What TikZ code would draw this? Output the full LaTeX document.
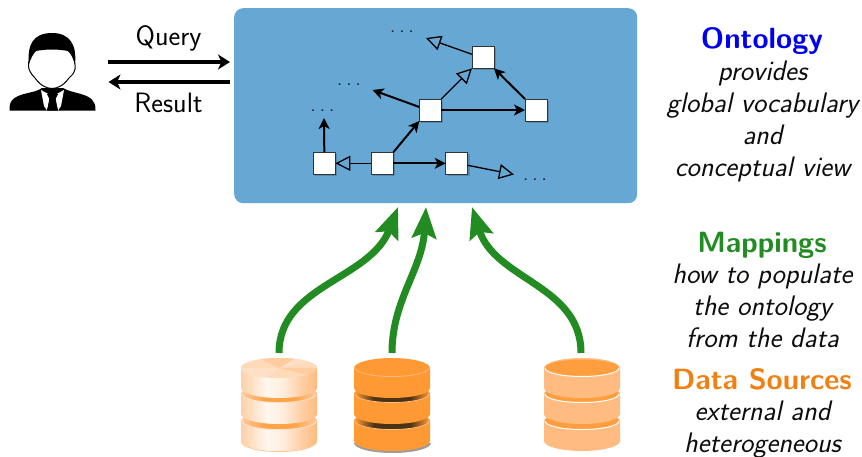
\documentclass[tikz,border=0pt]{standalone}
\usepackage{fontspec}
\usetikzlibrary{arrows.meta,shadows}
\definecolor{panel}{HTML}{66A8D3}
\definecolor{shadowblue}{HTML}{4F7FA3}
\definecolor{fgreen}{HTML}{228B22}
\definecolor{onto}{HTML}{0000F0}
\definecolor{dsorange}{HTML}{F08010}
\definecolor{dbo}{HTML}{FF9933}
\definecolor{dbl}{HTML}{FFBB80}
\definecolor{dbdark}{HTML}{4A3215}
\pgfdeclarehorizontalshading{lightdb}{100bp}{color(0bp)=(dbl!70!white); color(25bp)=(dbl!70!white); color(42bp)=(white!88!dbl); color(52bp)=(white!75!dbl); color(66bp)=(dbl!75!white); color(75bp)=(dbl); color(100bp)=(dbl)}
\pgfdeclarehorizontalshading{lightgap}{100bp}{color(0bp)=(dbl!80!white); color(25bp)=(dbl!80!white); color(40bp)=(dbo!90!white); color(60bp)=(dbo!90!white); color(75bp)=(dbl!80!white); color(100bp)=(dbl!80!white)}
\pgfdeclarehorizontalshading{darkgap}{100bp}{color(0bp)=(dbo); color(25bp)=(dbo); color(38bp)=(dbdark); color(62bp)=(dbdark); color(75bp)=(dbo); color(100bp)=(dbo)}
\tikzset{
 x=1pt,y=-1pt,
 sq/.style={draw=black!80,line width=0.9pt,fill=white,minimum size=22pt,inner sep=0pt,outer sep=0pt,
   general shadow={fill=shadowblue,shadow xshift=2pt,shadow yshift=-2pt,opacity=.7}},
 solidedge/.style={draw=black,line width=2pt,-{Stealth[length=11pt,width=11pt,inset=3pt]}},
 openedge/.style={draw=black,line width=1.3pt,-{Triangle[open,length=15pt,width=15pt,line width=1.3pt]}},
 dots/.style={font=\sffamily\fontsize{20}{20}\selectfont,inner sep=0pt,anchor=base,text=black!90},
 hugeedge/.style={draw=black,line width=3.6pt,-{Stealth[length=12pt,width=15pt,inset=3.5pt]}},
 mapedge/.style={draw=fgreen,line width=7pt,-{Stealth[length=31pt,width=24pt,inset=5pt]}},
 lab/.style={font=\sffamily\fontsize{28}{28}\selectfont,inner sep=0pt,anchor=base,text=black},
 side/.style={font=\sffamily\slshape\fontsize{28.2}{28.2}\selectfont,inner sep=0pt,anchor=base,text=black!95},
 headlab/.style={font=\sffamily\bfseries\fontsize{29.3}{29.3}\selectfont,inner sep=0pt,anchor=base},
}
\newcommand{\discoutline}[2]{(#1,#2) -- ++(0,20) arc[start angle=180,end angle=360,x radius=38pt,y radius=10pt] -- ++(0,-20) arc[start angle=0,end angle=180,x radius=38pt,y radius=10pt] -- cycle}
\newcommand{\gapellipse}[2]{(#1+38,#2) ellipse[x radius=37pt,y radius=8.5pt]}
\newcommand{\lowerarc}[2]{(#1+1,#2) arc[start angle=180,end angle=360,x radius=37pt,y radius=8.5pt]}
\begin{document}
\begin{tikzpicture}
\useasboundingbox (0,0) rectangle (862,456);
\fill[white] (0,0) rectangle (862,456);
% person
\fill[black] (9.5,110.5) .. controls (9,100) and (14,97) .. (24,94) .. controls (32,92) and (38,91) .. (42,88)
 -- (63,88) .. controls (68,91) and (74,92) .. (81,94) .. controls (91,97) and (96,101) .. (95.5,110.5) -- cycle;
\fill[white] (41,90) -- (50,95) -- (47,110.5) -- (44,106) -- cycle;
\fill[white] (64,90) -- (55,95) -- (58,110.5) -- (61,106) -- cycle;
\fill[black] (47,94) -- (58,94) -- (55,100) -- (58,110.5) -- (47,110.5) -- (50,100) -- cycle;
\draw[black,line width=1pt,fill=white] (39,48) .. controls (31,52) and (27,62) .. (29,69)
 .. controls (31,74) and (33,76) .. (35,78) .. controls (40,85) and (46,88.5) .. (52,88.5)
 .. controls (58,88.5) and (64,85) .. (69,78) .. controls (72,76) and (74,73) .. (75,69)
 .. controls (76,62) and (72,52) .. (65,48) -- cycle;
\fill[black] (29,64) .. controls (27,45) and (33,33) .. (52,33) .. controls (70,33) and (77,45) .. (75,64)
 .. controls (73,58) and (72,54) .. (68,51) .. controls (58,49) and (46,49) .. (36,51) .. controls (33,54) and (31,58) .. (29,64) -- cycle;
% panel
\node[fill=panel,rounded corners=9pt,minimum width=403pt,minimum height=195pt,inner sep=0pt,anchor=north west] (panel) at (234,8) {};
% query / result
\coordinate (qs) at (108,62); \coordinate (qe) at (230,62);
\coordinate (rs) at (230,82); \coordinate (re) at (108.5,82);
\draw[hugeedge] (qs) -- (qe);
\draw[hugeedge] (rs) -- (re);
\node[lab] (q) at (168.5,45) {Query};
\node[lab] (r) at (168.5,112) {Result};
% graph
\node[sq] (n1) at (324.3,163.3) {};
\node[sq] (n2) at (382.3,163.3) {};
\node[sq] (n3) at (456.7,163.3) {};
\node[sq] (n4) at (430.3,110) {};
\node[sq] (n5) at (536,110) {};
\node[sq] (n6) at (483,57.3) {};
\coordinate (f1) at (324,118);
\coordinate (f2) at (372.5,90);
\coordinate (f3) at (426,38);
\coordinate (f4) at (514,174.5);
\draw[solidedge] (n1.north) -- (f1);
\draw[solidedge] (n2.north east) -- (n4.south west);
\draw[solidedge] (n2.east) -- (n3.west);
\draw[openedge] (n2.west) -- (n1.east);
\draw[solidedge] (n4.east) -- (n5.west);
\draw[solidedge] ([yshift=3pt]n4.west) -- (f2);
\draw[openedge] (n4.north east) -- (n6.south west);
\draw[solidedge] (n5.north west) -- (n6.south east);
\draw[openedge] ([yshift=3pt]n6.west) -- (f3);
\draw[openedge] ([yshift=-2pt]n3.east) -- (f4);
\node[dots] (d1) at (402,32) {.\hspace{4pt}.\hspace{4pt}.};
\node[dots] (d2) at (349,85) {.\hspace{4pt}.\hspace{4pt}.};
\node[dots] (d3) at (322.5,111) {.\hspace{4pt}.\hspace{4pt}.};
\node[dots] (d4) at (535,180) {.\hspace{4pt}.\hspace{4pt}.};
% db1
\draw[dbo!55!white,line width=1pt] (241.5,441.5) arc[start angle=180,end angle=360,x radius=37.5pt,y radius=10pt];
\shade[shading=lightdb] \discoutline{241}{421};
\shade[shading=lightgap] \gapellipse{241}{421};
\draw[dbl!40!white,line width=0.8pt] \lowerarc{241}{421};
\shade[shading=lightdb] \discoutline{241}{394};
\shade[shading=lightgap] \gapellipse{241}{394};
\draw[dbl!40!white,line width=0.8pt] \lowerarc{241}{394};
\shade[shading=lightdb] \discoutline{241}{368};
\fill[dbl!55!white] (279,368) ellipse[x radius=38pt,y radius=10pt];
\begin{scope}
 \clip (279,368) ellipse[x radius=38pt,y radius=10pt];
 \fill[dbl!75!white] (279,368) -- (255,356) -- (300,356) -- cycle;
 \fill[white!55!dbl] (279,368) -- (300,356) -- (320,360) -- cycle;
 \fill[dbl!75!white] (279,368) -- (320,368) -- (320,378) -- cycle;
 \fill[white!55!dbl] (279,368) -- (240,368) -- (240,379) -- (265,379) -- cycle;
\end{scope}
% db2
\fill[black!70,opacity=.55] (354,443) arc[start angle=180,end angle=360,x radius=38.5pt,y radius=10pt] -- cycle;
\fill[dbo] \discoutline{354}{421};
\shade[shading=darkgap] \gapellipse{354}{421};
\draw[dbl,line width=0.8pt] \lowerarc{354}{421};
\fill[dbo] \discoutline{354}{394};
\shade[shading=darkgap] \gapellipse{354}{394};
\draw[dbl,line width=0.8pt] \lowerarc{354}{394};
\fill[dbo] \discoutline{354}{368};
\draw[dbl,line width=0.8pt] \lowerarc{354}{368};
% db3
\fill[dbl] \discoutline{544}{421};
\fill[dbo!85!dbl] \gapellipse{544}{421};
\draw[white,line width=1pt] \lowerarc{544}{421};
\fill[dbl] \discoutline{544}{394};
\fill[dbo!85!dbl] \gapellipse{544}{394};
\draw[white,line width=1pt] \lowerarc{544}{394};
\fill[dbl] \discoutline{544}{368};
\fill[dbo!85!dbl] \gapellipse{544}{368};
\draw[white,line width=1pt] \lowerarc{544}{368};
% mappings
\coordinate (s1) at (279,353); \coordinate (t1) at (398,207);
\coordinate (s2) at (392,353); \coordinate (t2) at (426,207);
\coordinate (s3) at (581,353); \coordinate (t3) at (472,207);
\draw[mapedge] (s1) .. controls (279,285) and (370,280) .. (t1);
\draw[mapedge] (s2) .. controls (392,300) and (422,270) .. (t2);
\draw[mapedge] (s3) .. controls (581,285) and (495,280) .. (t3);
% side text
\node[headlab,text=onto] (o0) at (762,48) {Ontology};
\node[side] (o1) at (762.5,80) {provides};
\node[side] (o2) at (762.5,112) {global vocabulary};
\node[side] (o3) at (762.5,144) {and};
\node[side] (o4) at (762.5,176) {conceptual view};
\node[headlab,text=fgreen] (m0) at (762,252) {Mappings};
\node[side] (m1) at (762.5,283) {how to populate};
\node[side] (m2) at (762.5,315) {the ontology};
\node[side] (m3) at (762.5,347) {from the data};
\node[headlab,text=dsorange] (s0) at (762,389) {Data Sources};
\node[side] (s4) at (762.5,420) {external and};
\node[side] (s5) at (762.5,452) {heterogeneous};
\end{tikzpicture}
\end{document}
